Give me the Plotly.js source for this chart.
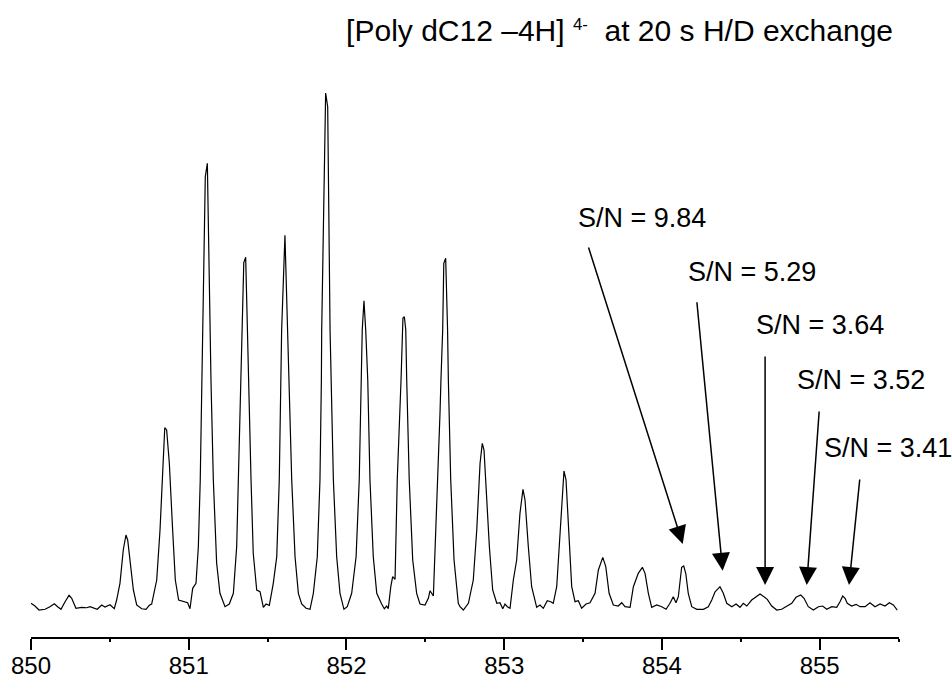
<!DOCTYPE html>
<html>
<head>
<meta charset="utf-8">
<script src="https://cdn.plot.ly/plotly-3.0.1.min.js"></script>
<style>html,body{margin:0;padding:0;background:#fff;}#chart{width:952px;height:680px;}</style>
</head>
<body>
<div id="chart"></div>
<script>
// m/z values of the sampled spectrum trace
const mz = [
850.000,850.025,850.051,850.089,850.120,850.148,850.169,850.190,850.216,850.241,
850.258,850.285,850.321,850.353,850.374,850.395,850.420,850.448,850.469,850.501,
850.528,850.543,850.564,850.585,850.602,850.613,850.632,850.649,850.670,850.702,
850.729,850.750,850.765,850.797,850.818,850.835,850.848,850.860,850.877,850.898,
850.915,850.936,850.966,850.993,851.008,851.025,851.046,851.061,851.073,851.084,
851.089,851.105,851.118,851.135,851.141,851.156,851.177,851.198,851.230,851.257,
851.283,851.304,851.321,851.330,851.340,851.349,851.361,851.371,851.378,851.395,
851.409,851.431,851.452,851.473,851.490,851.511,851.536,851.558,851.574,851.585,
851.589,851.610,851.627,851.638,851.653,851.674,851.695,851.716,851.744,851.769,
851.790,851.815,851.832,851.841,851.843,851.868,851.881,851.896,851.902,851.917,
851.938,851.959,851.984,852.005,852.033,852.061,852.081,852.092,852.100,852.111,
852.122,852.135,852.149,852.170,852.192,852.223,852.240,852.255,852.265,852.281,
852.293,852.308,852.322,852.346,852.354,852.358,852.367,852.376,852.382,852.398,
852.420,852.445,852.466,852.498,852.519,852.530,852.551,852.572,852.593,852.599,
852.610,852.617,852.629,852.641,852.646,852.661,852.682,852.709,852.720,852.741,
852.773,852.804,852.826,852.847,852.861,852.872,852.889,852.906,852.927,852.953,
852.973,852.991,853.005,853.020,853.037,853.058,853.079,853.100,853.119,853.132,
853.153,853.174,853.206,853.227,853.248,853.273,853.295,853.311,853.333,853.354,
853.379,853.392,853.407,853.428,853.449,853.470,853.491,853.519,853.544,853.576,
853.597,853.625,853.644,853.665,853.692,853.723,853.745,853.766,853.798,853.819,
853.850,853.876,853.893,853.914,853.935,853.967,853.999,854.026,854.051,854.072,
854.089,854.104,854.125,854.138,854.151,854.167,854.189,854.221,854.263,854.294,
854.316,854.337,854.368,854.389,854.411,854.443,854.470,854.495,854.516,854.538,
854.569,854.601,854.622,854.647,854.668,854.696,854.728,854.759,854.791,854.823,
854.850,854.880,854.901,854.928,854.960,854.992,855.019,855.045,855.077,855.108,
855.129,855.146,855.161,855.175,855.203,855.231,855.256,855.288,855.319,855.351,
855.383,855.414,855.442,855.467,855.492
];
// relative intensity (%) at each m/z sample
const intensity = [
1.30,0.77,0.00,0.14,0.64,1.22,0.64,0.14,1.61,2.84,
2.26,0.33,0.52,0.44,0.64,0.39,0.14,0.97,0.58,1.03,
0.25,1.93,5.16,11.61,14.51,13.54,8.38,3.87,0.97,0.25,
0.14,0.91,1.16,5.80,15.47,28.38,35.26,34.82,28.38,15.47,
5.80,1.93,1.61,1.41,0.25,4.20,5.16,12.24,25.15,44.49,
54.16,83.81,86.40,54.16,44.49,25.15,9.03,3.23,0.64,1.16,
3.23,12.24,31.59,44.49,54.16,67.18,68.22,54.16,44.49,25.15,
10.97,3.87,3.54,0.52,1.16,0.91,5.16,10.31,25.15,44.49,
54.16,72.48,54.16,44.49,25.15,10.31,3.23,1.16,0.33,0.14,
3.23,10.31,25.15,44.49,54.16,100.0,97.35,54.16,44.49,25.15,
10.31,3.23,0.14,0.64,3.23,10.31,25.15,44.49,54.16,59.83,
54.16,44.49,25.15,10.31,3.23,1.16,0.25,0.77,0.25,4.51,
6.44,5.94,25.15,44.49,54.16,56.48,56.73,54.16,44.49,25.15,
9.67,3.23,1.16,0.97,2.26,3.73,2.71,18.70,38.05,44.49,
54.16,67.06,68.03,54.16,44.49,25.15,9.67,1.30,0.64,0.00,
1.30,5.80,15.47,28.38,32.24,30.95,21.91,12.24,3.87,1.30,
1.41,0.25,1.16,0.64,0.33,5.80,9.67,18.70,23.35,21.28,
12.24,4.51,0.52,0.97,0.33,1.80,1.61,1.30,4.51,15.47,
26.89,25.15,15.47,4.51,1.61,1.80,0.33,1.16,1.41,3.23,
7.74,10.19,8.38,3.23,0.97,0.77,1.41,0.64,0.52,4.51,
7.10,8.26,7.10,3.23,0.52,0.97,0.64,0.14,1.30,2.57,
1.41,2.57,8.26,8.51,7.10,3.23,0.64,0.14,0.14,0.64,
1.93,3.54,4.51,3.23,1.30,0.64,1.16,0.52,1.30,0.77,
1.93,2.71,3.09,2.57,2.07,0.77,0.00,0.14,0.64,1.30,
2.46,2.90,2.26,0.64,0.00,0.64,0.77,0.14,0.64,0.52,
1.61,2.71,2.26,1.30,0.77,1.10,0.64,0.64,1.41,0.64,
1.16,0.77,1.41,0.97,0.00
];
// S/N labels and the peaks they point to
const snLabels = ["S/N = 9.84","S/N = 5.29","S/N = 3.64","S/N = 3.52","S/N = 3.41"];
const snPeakMz = [854.132, 854.385, 854.654, 854.918, 855.186];
const snTipI = [12.77, 7.60, 4.84, 4.84, 4.84];
const snTextMz = [853.455, 854.150, 854.583, 854.843, 855.012];
const snTextI = [75.76, 65.44, 55.13, 44.49, 31.28];
const arrowAx = [-95, -26, 0, 12.6, 11];
const arrowAy = [-299, -271, -231, -176, -108];
const tickVals = [850, 851, 852, 853, 854, 855];
const tickText = ["850","851","852","853","854","855"];

const FONT = "Liberation Sans, Arial, Helvetica, sans-serif";
const NB = "\u00A0";

const annotations = [];
for (let i = 0; i < snLabels.length; i++) {
  annotations.push({
    xref: 'x', yref: 'y', x: snPeakMz[i], y: snTipI[i],
    ax: arrowAx[i], ay: arrowAy[i], axref: 'pixel', ayref: 'pixel',
    text: ' ', showarrow: true, arrowhead: 2, arrowsize: 2.4, arrowwidth: 1.5,
    arrowcolor: '#000', standoff: 0, font: {family: FONT, size: 2}
  });
  annotations.push({
    xref: 'x', yref: 'y', x: snTextMz[i], y: snTextI[i],
    xanchor: 'left', yanchor: 'middle', showarrow: false,
    text: snLabels[i], font: {family: FONT, size: 27, color: '#000'}
  });
}

const trace = {
  x: mz, y: intensity, type: 'scatter', mode: 'lines',
  line: {color: '#000', width: 1.2}, hoverinfo: 'skip'
};

const layout = {
  width: 952, height: 680,
  margin: {l: 31, r: 53, t: 80, b: 43},
  paper_bgcolor: '#fff', plot_bgcolor: '#fff',
  showlegend: false,
  title: {
    text: '[Poly dC12 –4H] <span style="font-size:24px"><sup>4-</sup></span>' + NB + ' at 20 s H/D exchange',
    font: {family: FONT, size: 30, color: '#000'},
    xref: 'container', yref: 'container', x: 893/952, xanchor: 'right',
    y: 1 - 30/680, yanchor: 'middle'
  },
  xaxis: {
    range: [850, 855.503], showgrid: false, zeroline: false,
    showline: true, linecolor: '#000', linewidth: 2,
    ticks: 'outside', ticklen: 11, tickwidth: 2, tickcolor: '#000',
    tickvals: tickVals, ticktext: tickText, ticklabelstandoff: -5,
    tickfont: {family: FONT, size: 24, color: '#000'},
    minor: {dtick: 0.5, tick0: 850, ticks: 'outside', ticklen: 3, tickwidth: 2, tickcolor: '#000', showgrid: false},
    fixedrange: true
  },
  yaxis: {
    range: [-5.22, 102.51], visible: false, showgrid: false, zeroline: false, fixedrange: true
  },
  annotations: annotations
};

Plotly.newPlot('chart', [trace], layout, {staticPlot: true, displayModeBar: false});
</script>
</body>
</html>
